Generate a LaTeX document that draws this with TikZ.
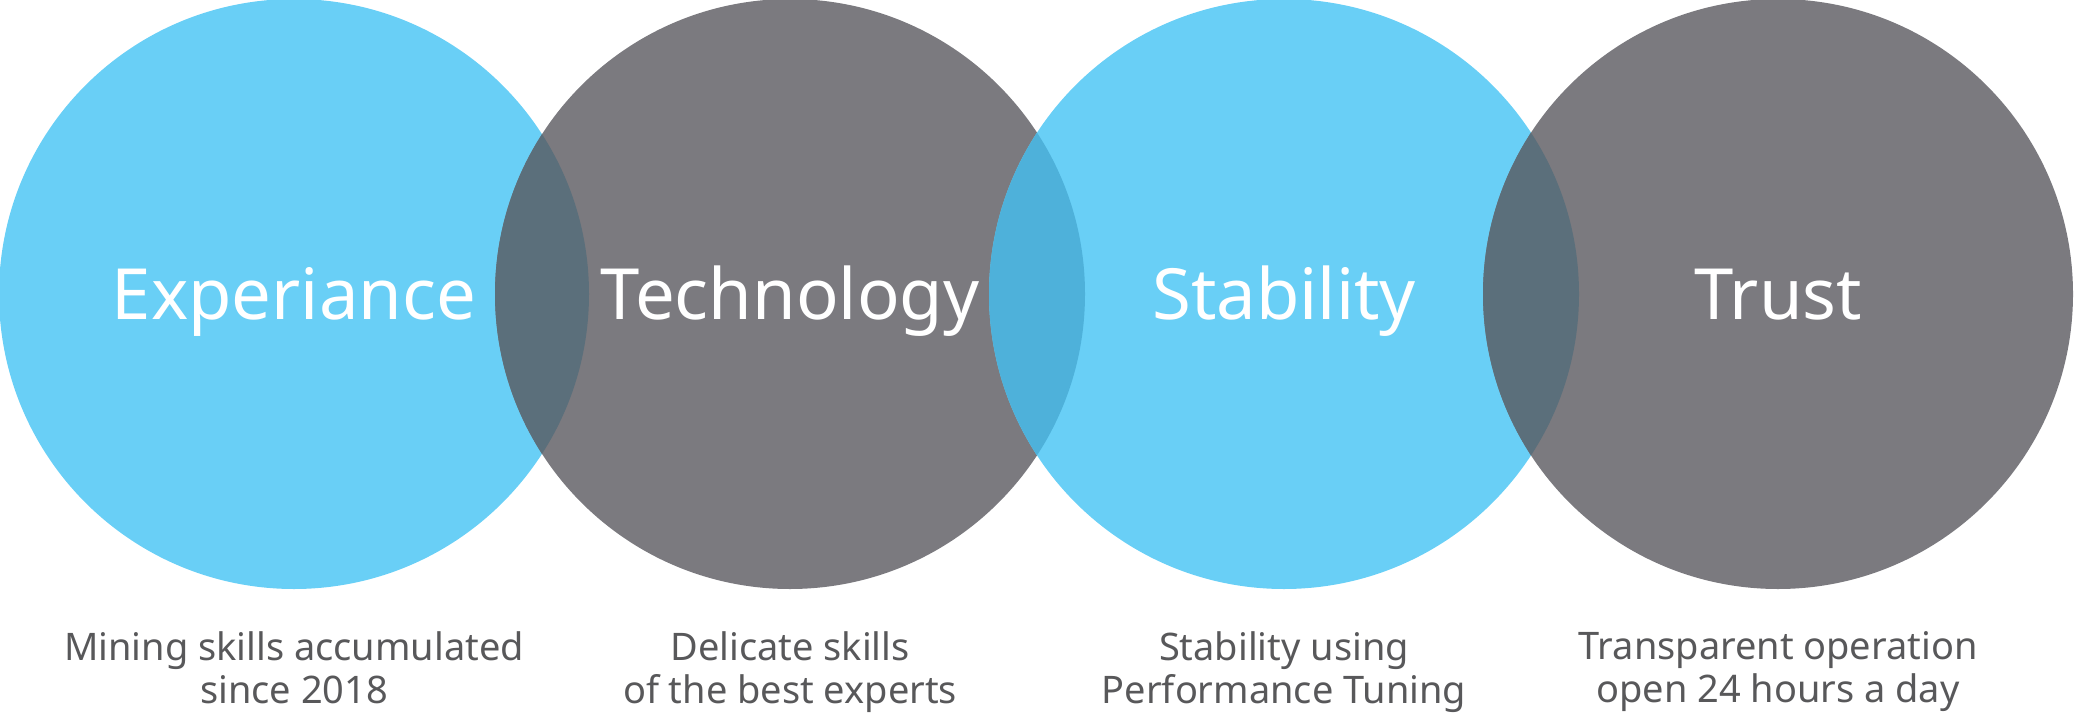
\documentclass[tikz,border=0pt]{standalone}
\usepackage{fontspec}
\setmainfont{Noto Sans}
\usepackage{xcolor}
\usetikzlibrary{positioning}
\definecolor{RingBlue}{HTML}{69CFF6}
\definecolor{RingGray}{HTML}{7B7A7F}
\definecolor{LensDark}{HTML}{5B6F7B}
\definecolor{LensBlue}{HTML}{4EB1DA}
\definecolor{NoteGray}{HTML}{58585A}
\tikzset{
  bubble/.style={circle,draw=none,inner sep=0pt,minimum size=5.9cm},
  bluebubble/.style={bubble,fill=RingBlue},
  graybubble/.style={bubble,fill=RingGray},
  title/.style={text=white,inner sep=0pt,text height=0.5cm,text depth=0pt,
    font=\fontsize{20.1}{24}\selectfont},
  note/.style={text=NoteGray,align=center,inner sep=0pt,
    font=\fontsize{10.8}{12.2}\selectfont}
}

\begin{document}
\begin{tikzpicture}
  \useasboundingbox (0,0) rectangle (20.75,7.15);
  % four rings in a row
  \node[bluebubble] (c1) at (2.94,4.21) {};
  \node[graybubble] (c2) at (7.90,4.21) {};
  \node[bluebubble] (c3) at (12.84,4.21) {};
  \node[graybubble] (c4) at (17.78,4.21) {};
  % overlaps
  \begin{scope}
    \clip (c1) circle (2.95);
    \fill[LensDark] (c2) circle (2.95);
  \end{scope}
  \begin{scope}
    \clip (c2) circle (2.95);
    \fill[LensBlue] (c3) circle (2.95);
  \end{scope}
  \begin{scope}
    \clip (c3) circle (2.95);
    \fill[LensDark] (c4) circle (2.95);
  \end{scope}
  % titles
  \node[title] (t1) at (c1) {Experiance};
  \node[title] (t2) at (c2) {Technology};
  \node[title] (t3) at (c3) {Stability};
  \node[title] (t4) at (c4) {Trust};
  % notes under the rings
  \node[note,below=0.41cm of c1] (n1) {Mining skills accumulated\\since 2018};
  \node[note,below=0.41cm of c2] (n2) {Delicate skills\\of the best experts};
  \node[note,below=0.41cm of c3] (n3) {Stability using\\Performance Tuning};
  \node[note,below=0.41cm of c4] (n4) {Transparent operation\\open 24 hours a day};
\end{tikzpicture}
\end{document}
